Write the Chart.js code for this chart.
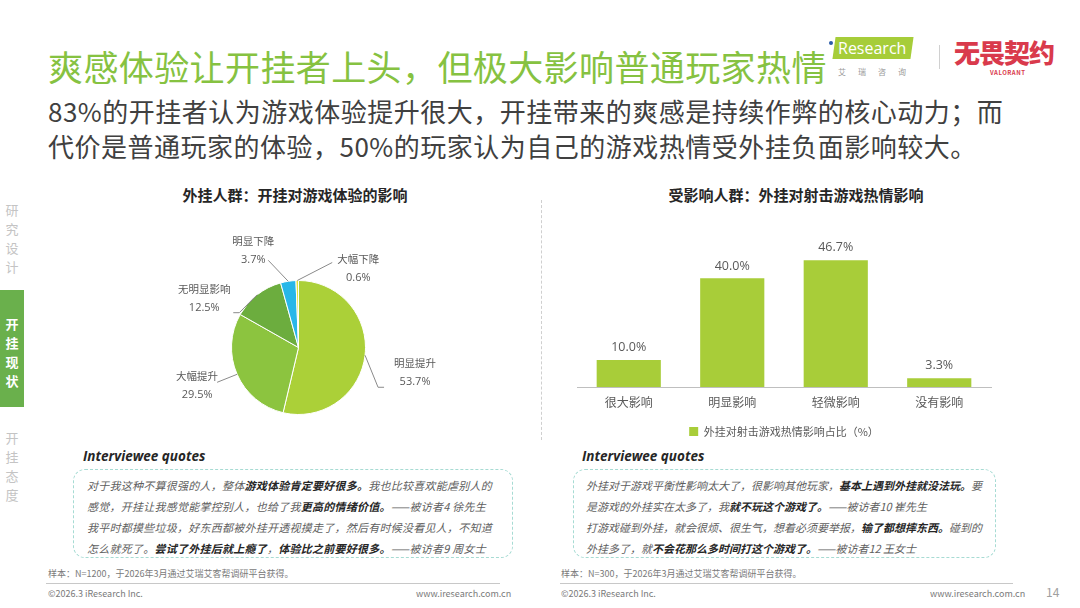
<!DOCTYPE html>
<html>
<head>
<meta charset="utf-8">
<script src="https://cdn.jsdelivr.net/npm/chart.js@4.4.1/dist/chart.umd.min.js"></script>
<style>
  html, body { margin: 0; padding: 0; background: #fff; }
  body { width: 1080px; height: 608px; position: relative; overflow: hidden;
         font-family: "Noto Sans CJK SC", "Noto Sans", sans-serif; }
  .abs { position: absolute; }
  #title { left: 48px; top: 44px; font-size: 35px; color: #86c241; line-height: 44px; white-space: nowrap; letter-spacing: 0.4px; }
  #subtitle { left: 48px; top: 93px; font-size: 26px; color: #404040; line-height: 35px; white-space: nowrap; letter-spacing: 0.5px; }
  .side { left: 4px; width: 16px; font-size: 13px; line-height: 19px; color: #c4c4c4; text-align: center; }
  #sideOn { left: 0; top: 290px; width: 24px; height: 117px; background: #6ab04c; }
  #sideOn div { color: #fff; font-weight: bold; font-size: 13px; line-height: 19px; text-align: center; padding-top: 24px; }
  .ctitle { top: 184px; font-size: 15px; font-weight: bold; color: #262626; white-space: nowrap; transform: translateX(-50%); }
  #sep { left: 541px; top: 200px; height: 240px; border-left: 1px dashed #cfcfcf; }
  .qhead { top: 447px; font-family: "Open Sans", "DejaVu Sans", sans-serif; font-style: italic; font-weight: bold; font-size: 13.5px; color: #262626; }
  .qbox { top: 469px; height: 89px; border: 1px dashed #a6dbd3; border-radius: 12px; box-sizing: border-box; }
  .qtext { font-size: 11px; line-height: 21px; color: #5e5e5e; font-style: italic; white-space: nowrap; padding: 5px 0 0 13px; }
  .qtext b { color: #262626; }
  .foot { font-size: 9px; color: #7a7a7a; white-space: nowrap; }
  .fline { top: 583px; height: 0; border-top: 1.5px solid #c8c8c8; }
  #logoI { left: 828px; top: 37px; width: 86px; height: 22px; }
  #logoI .pg { position: absolute; left: 6px; top: 0; width: 78px; height: 22px; background: #a6cd39; transform: skewX(-8deg); }
  #logoI .txt { position: absolute; left: 10px; top: 1px; color: #fff; font-family: "Open Sans", sans-serif; font-size: 16px; line-height: 20px; }
  #logoI .dot { position: absolute; left: 1px; top: 4px; width: 4px; height: 4px; border-radius: 50%; background: #2a5ca8; }
  #logoSub { left: 838px; top: 66px; font-size: 8px; color: #9a9a9a; letter-spacing: 12px; white-space: nowrap; }
  #logoSep { left: 939px; top: 45px; height: 24px; border-left: 1px solid #d0d0d0; }
  #valo { left: 954px; top: 33px; font-size: 26px; font-weight: 900; color: #d93a4c; white-space: nowrap; letter-spacing: -1px; }
  #valoSub { left: 990px; top: 68px; font-size: 6px; font-weight: bold; color: #d93a4c; letter-spacing: 0.5px; }
</style>
</head>
<body>
<div id="title" class="abs">爽感体验让开挂者上头，但极大影响普通玩家热情</div>
<div id="subtitle" class="abs">83%的开挂者认为游戏体验提升很大，开挂带来的爽感是持续作弊的核心动力；而<br>代价是普通玩家的体验，50%的玩家认为自己的游戏热情受外挂负面影响较大。</div>

<div id="logoI" class="abs"><div class="pg"></div><div class="dot"></div><div class="txt">Research</div></div>
<div id="logoSub" class="abs">艾瑞咨询</div>
<div id="logoSep" class="abs"></div>
<div id="valo" class="abs">无畏契约</div>
<div id="valoSub" class="abs">VALORANT</div>

<div class="abs side" style="top:200px">研<br>究<br>设<br>计</div>
<div id="sideOn" class="abs"><div>开<br>挂<br>现<br>状</div></div>
<div class="abs side" style="top:428px">开<br>挂<br>态<br>度</div>

<div class="abs ctitle" style="left:295px">外挂人群：开挂对游戏体验的影响</div>
<div class="abs ctitle" style="left:796px">受影响人群：外挂对射击游戏热情影响</div>
<div id="sep" class="abs"></div>

<div class="abs" style="left:150px; top:215px; width:300px; height:225px;"><canvas id="pieChart"></canvas></div>
<div class="abs" style="left:560px; top:215px; width:450px; height:232px;"><canvas id="barChart"></canvas></div>

<div class="abs qhead" style="left:83px">Interviewee quotes</div>
<div class="abs qbox" style="left:73px; width:440px;">
  <div class="qtext" style="letter-spacing:0.25px">对于我这种不算很强的人，整体<b>游戏体验肯定要好很多。</b>我也比较喜欢能虐别人的<br>感觉，开挂让我感觉能掌控别人，也给了我<b>更高的情绪价值。</b>——被访者4 徐先生<br>我平时都摸些垃圾，好东西都被外挂开透视摸走了，然后有时候没看见人，不知道<br>怎么就死了。<b>尝试了外挂后就上瘾了</b>，<b>体验比之前要好很多。</b>——被访者9 周女士</div>
</div>
<div class="abs qhead" style="left:582px">Interviewee quotes</div>
<div class="abs qbox" style="left:573px; width:423px;">
  <div class="qtext" style="padding-left:12px">外挂对于游戏平衡性影响太大了，很影响其他玩家，<b>基本上遇到外挂就没法玩。</b>要<br>是游戏的外挂实在太多了，我<b>就不玩这个游戏了。</b>——被访者10 崔先生<br>打游戏碰到外挂，就会很烦、很生气，想着必须要举报，<b>输了都想摔东西。</b>碰到的<br>外挂多了，就<b>不会花那么多时间打这个游戏了。</b>——被访者12 王女士</div>
</div>

<div class="abs foot" style="left:48px; top:567px">样本：N=1200，于2026年3月通过艾瑞艾客帮调研平台获得。</div>
<div class="abs foot" style="left:561px; top:567px">样本：N=300，于2026年3月通过艾瑞艾客帮调研平台获得。</div>
<div class="abs fline" style="left:46px; width:454px"></div>
<div class="abs fline" style="left:560px; width:453px"></div>
<div class="abs foot" style="left:48px; top:587px">©2026.3 iResearch Inc.</div>
<div class="abs foot" style="left:416px; top:587px">www.iresearch.com.cn</div>
<div class="abs foot" style="left:930px; top:587px">www.iresearch.com.cn</div>
<div class="abs foot" style="left:561px; top:587px">©2026.3 iResearch Inc.</div>
<div class="abs foot" style="left:1046px; top:583px; font-size:12px; color:#a0a0a0">14</div>

<script>
const pieLabels = ['明显提升', '大幅提升', '无明显影响', '明显下降', '大幅下降'];
const pieValues = [53.7, 29.5, 12.5, 3.7, 0.6];
const pieColors = ['#abd038', '#8cc43f', '#6cad3e', '#28b7e8', '#e3e23a'];

const barLabels = ['很大影响', '明显影响', '轻微影响', '没有影响'];
const barValues = [10.0, 40.0, 46.7, 3.3];
const barSeriesName = '外挂对射击游戏热情影响占比（%）';
const BAR_COLOR = '#a8cd39';

// leader layout per slice: elbow offset, end offset, text offset (from arc edge point)
const leaderLayout = [
  { elbow: [13, 32], end: [19, 32], text: [50, 17] },
  { elbow: [-20, 8], end: [-20, 8], text: [-40, 11] },
  { elbow: [-18, 18], end: [-24, 18], text: [-53, 4] },
  { elbow: [-20, -21], end: [-20, -21], text: [-35, -31] },
  { elbow: [35, -18], end: [35, -18], text: [61, -12] },
];

const pieLabelPlugin = {
  id: 'pieLabels',
  afterDatasetsDraw(chart) {
    const ctx = chart.ctx;
    const arcs = chart.getDatasetMeta(0).data;
    ctx.save();
    arcs.forEach((arc, i) => {
      const { x, y, startAngle, endAngle, outerRadius } = arc.getProps(['x', 'y', 'startAngle', 'endAngle', 'outerRadius'], true);
      const a = (startAngle + endAngle) / 2;
      const ex = x + outerRadius * Math.cos(a);
      const ey = y + outerRadius * Math.sin(a);
      const L = leaderLayout[i];
      ctx.strokeStyle = '#8a8a8a';
      ctx.lineWidth = 1;
      ctx.beginPath();
      ctx.moveTo(ex, ey);
      ctx.lineTo(ex + L.elbow[0], ey + L.elbow[1]);
      ctx.lineTo(ex + L.end[0], ey + L.end[1]);
      ctx.stroke();
      ctx.fillStyle = '#595959';
      ctx.textAlign = 'center';
      ctx.textBaseline = 'middle';
      ctx.font = '10.5px "Noto Sans CJK SC", sans-serif';
      const tx = ex + L.text[0], ty = ey + L.text[1];
      ctx.fillText(pieLabels[i], tx, ty - 9.5);
      ctx.font = '11px "Open Sans", "Noto Sans", sans-serif';
      ctx.fillText(pieValues[i].toFixed(1) + '%', tx, ty + 9.5);
    });
    ctx.restore();
  }
};

new Chart(document.getElementById('pieChart'), {
  type: 'pie',
  data: {
    labels: pieLabels,
    datasets: [{
      data: pieValues,
      backgroundColor: pieColors,
      borderColor: '#ffffff',
      borderWidth: 1,
    }],
  },
  options: {
    responsive: true,
    maintainAspectRatio: false,
    animation: false,
    layout: { padding: { left: 81, right: 84, top: 65, bottom: 25 } },
    plugins: { legend: { display: false }, tooltip: { enabled: false } },
  },
  plugins: [pieLabelPlugin],
});

const barLabelPlugin = {
  id: 'barLabels',
  afterDatasetsDraw(chart) {
    const ctx = chart.ctx;
    ctx.save();
    ctx.fillStyle = '#595959';
    ctx.font = '12.5px "Open Sans", "Noto Sans", sans-serif';
    ctx.textAlign = 'center';
    ctx.textBaseline = 'bottom';
    chart.getDatasetMeta(0).data.forEach((bar, i) => {
      ctx.fillText(barValues[i].toFixed(1) + '%', bar.x, bar.y - 6);
    });
    ctx.restore();
  }
};

new Chart(document.getElementById('barChart'), {
  type: 'bar',
  data: {
    labels: barLabels,
    datasets: [{
      label: barSeriesName,
      data: barValues,
      backgroundColor: BAR_COLOR,
      categoryPercentage: 0.62,
      barPercentage: 1.0,
    }],
  },
  options: {
    responsive: true,
    maintainAspectRatio: false,
    animation: false,
    layout: { padding: { left: 17, right: 19, top: 9, bottom: 0 } },
    scales: {
      x: {
        grid: { display: false, drawTicks: false },
        border: { display: true, color: '#bfbfbf', width: 1 },
        ticks: { color: '#595959', font: { size: 12, family: '"Noto Sans CJK SC", sans-serif' }, padding: 8 },
      },
      y: { display: false, min: 0, max: 60 },
    },
    plugins: {
      tooltip: { enabled: false },
      legend: {
        position: 'bottom',
        labels: {
          boxWidth: 9, boxHeight: 9, color: '#595959', padding: 8.5,
          font: { size: 11, family: '"Noto Sans CJK SC", sans-serif' },
        },
      },
    },
  },
  plugins: [barLabelPlugin],
});
</script>
</body>
</html>
